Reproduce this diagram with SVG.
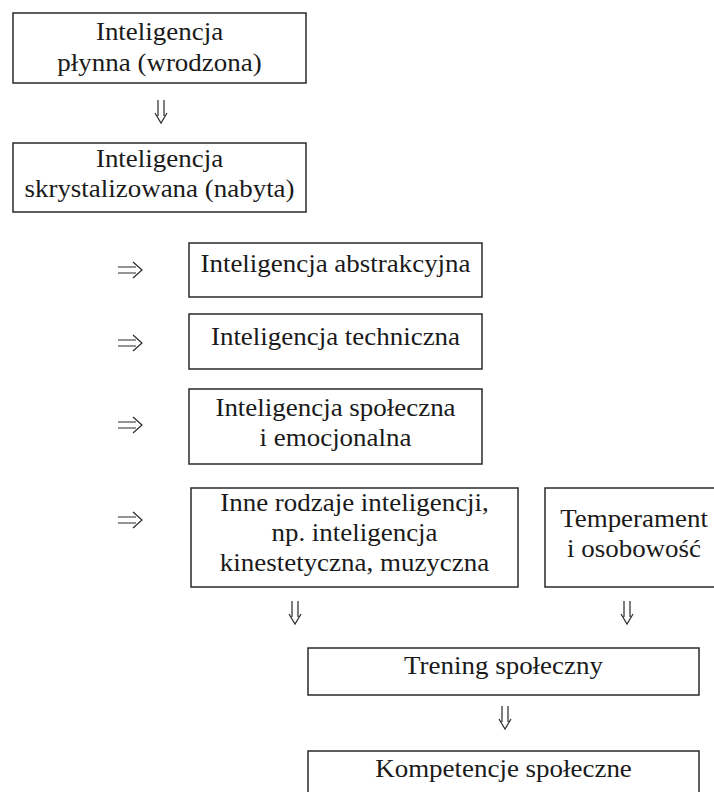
<svg xmlns="http://www.w3.org/2000/svg" width="714" height="792" viewBox="0 0 714 792">
<style>
.box{fill:#fff;stroke:#2a2a2a;stroke-width:1.5}
.t{font-family:"Liberation Serif","Times New Roman",serif;font-size:24.5px;fill:#1a1a1a;text-anchor:middle}
.arr{fill:none;stroke:#2a2a2a;stroke-width:1.2;stroke-linejoin:miter}
</style>
<rect width="714" height="792" fill="#fff"/>
<g id="n1"><rect class="box" x="13" y="13" width="293" height="70"/>
<text class="t" transform="translate(159.5,40) scale(1.1,1)">Inteligencja</text>
<text class="t" transform="translate(159.5,71) scale(1.1,1)">płynna (wrodzona)</text></g>
<g id="n2"><rect class="box" x="13" y="143" width="293" height="69"/>
<text class="t" transform="translate(159.5,167) scale(1.1,1)">Inteligencja</text>
<text class="t" transform="translate(159.5,197) scale(1.1,1)">skrystalizowana (nabyta)</text></g>
<g id="n3"><rect class="box" x="189" y="243" width="293" height="54"/>
<text class="t" transform="translate(335.5,272) scale(1.1,1)">Inteligencja abstrakcyjna</text></g>
<g id="n4"><rect class="box" x="189" y="314" width="293" height="55"/>
<text class="t" transform="translate(335.5,345) scale(1.1,1)">Inteligencja techniczna</text></g>
<g id="n5"><rect class="box" x="189" y="389" width="293" height="75"/>
<text class="t" transform="translate(335.5,416) scale(1.1,1)">Inteligencja społeczna</text>
<text class="t" transform="translate(335.5,446) scale(1.1,1)">i emocjonalna</text></g>
<g id="n6"><rect class="box" x="191" y="488" width="327" height="99"/>
<text class="t" transform="translate(354.5,511) scale(1.1,1)">Inne rodzaje inteligencji,</text>
<text class="t" transform="translate(354.5,541) scale(1.1,1)">np. inteligencja</text>
<text class="t" transform="translate(354.5,571) scale(1.1,1)">kinestetyczna, muzyczna</text></g>
<g id="n7"><rect class="box" x="545" y="488" width="185" height="99"/>
<text class="t" transform="translate(634,527) scale(1.1,1)">Temperament</text>
<text class="t" transform="translate(634,557) scale(1.1,1)">i osobowość</text></g>
<g id="n8"><rect class="box" x="308" y="648" width="391" height="47"/>
<text class="t" transform="translate(503.5,674) scale(1.1,1)">Trening społeczny</text></g>
<g id="n9"><rect class="box" x="308" y="751" width="391" height="60"/>
<text class="t" transform="translate(503.5,777) scale(1.1,1)">Kompetencje społeczne</text></g>
<g id="connectors" class="arr">
<path d="M158,100 V116 M164,100 V116 M155,113 L161,123 L167,113"/>
<path d="M118,267 H136 M118,273 H136 M133,262 L142,270 L133,278"/>
<path d="M118,340 H136 M118,346 H136 M133,335 L142,343 L133,351"/>
<path d="M118,422 H136 M118,428 H136 M133,417 L142,425 L133,433"/>
<path d="M118,517 H136 M118,523 H136 M133,512 L142,520 L133,528"/>
<path d="M292,601 V617 M298,601 V617 M289,614 L295,624 L301,614"/>
<path d="M624,601 V617 M630,601 V617 M621,614 L627,624 L633,614"/>
<path d="M502,706 V722 M508,706 V722 M499,719 L505,729 L511,719"/>
</g>
</svg>
